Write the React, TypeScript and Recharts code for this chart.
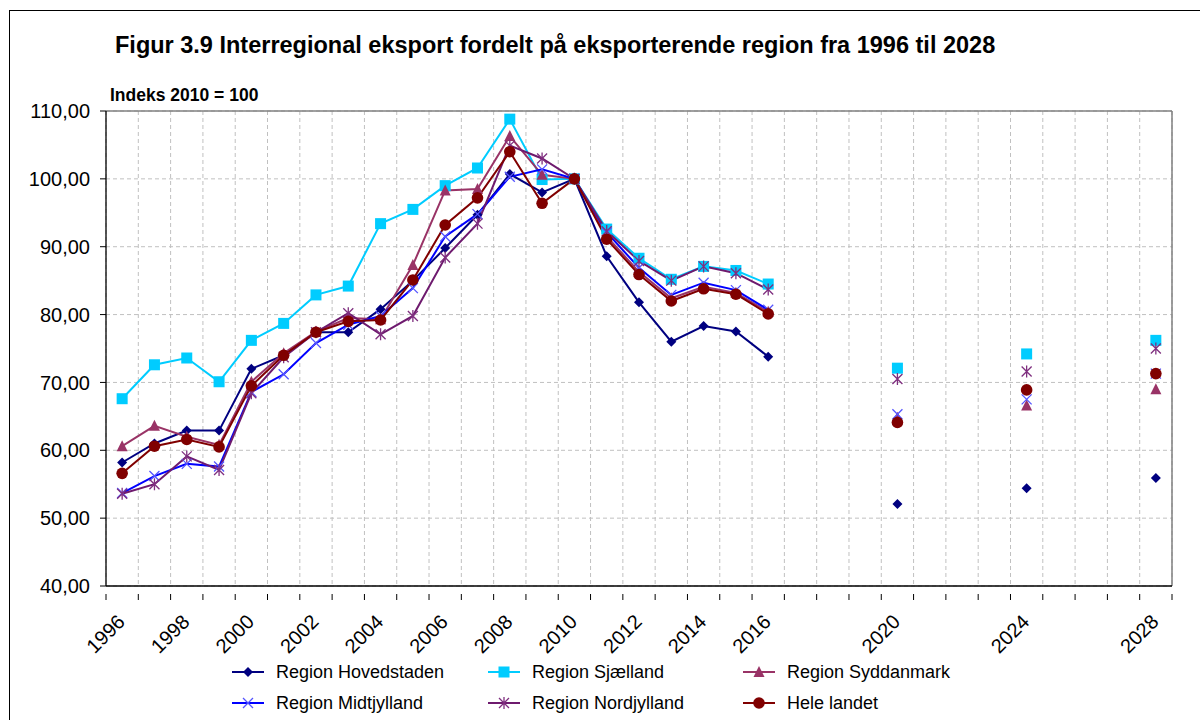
import React from 'react';
import { LineChart, Line, XAxis, YAxis, CartesianGrid, ReferenceLine } from 'recharts';

const histYears = [1996, 1997, 1998, 1999, 2000, 2001, 2002, 2003, 2004, 2005, 2006, 2007, 2008, 2009, 2010, 2011, 2012, 2013, 2014, 2015, 2016];
const projYears = [2020, 2024, 2028];
const labelYears = [1996, 1998, 2000, 2002, 2004, 2006, 2008, 2010, 2012, 2014, 2016, 2020, 2024, 2028];
const yTicks = [40, 50, 60, 70, 80, 90, 100, 110];

const hovedstadenHist = [58.2, 61.0, 62.9, 62.9, 72.0, 74.0, 77.4, 77.4, 80.8, 85.0, 89.8, 94.7, 100.7, 98.0, 100.0, 88.6, 81.8, 76.0, 78.3, 77.5, 73.8];
const hovedstadenProj = [52.1, 54.4, 55.9];
const sjaellandHist = [67.6, 72.6, 73.6, 70.1, 76.2, 78.7, 82.9, 84.2, 93.4, 95.5, 99.0, 101.6, 108.8, 99.9, 100.0, 92.6, 88.3, 85.2, 87.1, 86.5, 84.5];
const sjaellandProj = [72.1, 74.2, 76.2];
const syddanmarkHist = [60.6, 63.6, 62.0, 60.8, 70.1, 74.3, 77.5, 79.5, 79.3, 87.3, 98.3, 98.5, 106.3, 100.6, 100.0, 91.5, 86.3, 82.4, 84.1, 83.2, 80.4];
const syddanmarkProj = [64.8, 66.6, 69.0];
const midtjyllandHist = [53.7, 56.2, 58.0, 57.6, 68.6, 71.2, 75.8, 78.5, 79.8, 83.9, 91.5, 94.8, 100.3, 101.4, 100.0, 92.1, 86.9, 82.9, 84.7, 83.6, 80.7];
const midtjyllandProj = [65.3, 67.5, 71.3];
const nordjyllandHist = [53.6, 55.0, 59.1, 57.1, 68.4, 73.7, 77.4, 80.2, 77.1, 79.8, 88.4, 93.4, 104.9, 103.0, 100.0, 92.3, 87.9, 85.0, 87.1, 86.1, 83.7];
const nordjyllandProj = [70.5, 71.6, 75.0];
const heleLandetHist = [56.6, 60.6, 61.6, 60.5, 69.5, 74.0, 77.4, 79.0, 79.2, 85.1, 93.2, 97.2, 104.0, 96.4, 100.0, 91.1, 85.9, 82.0, 83.8, 83.0, 80.1];
const heleLandetProj = [64.1, 68.9, 71.3];

const FONT = '"Liberation Sans", Arial, Helvetica, sans-serif';

type MarkerType = 'diamond' | 'square' | 'triangle' | 'x' | 'star' | 'circle';

const SERIES: { key: string; name: string; hist: number[]; proj: number[]; color: string; markerColor: string; marker: MarkerType }[] = [
  { key: 'hov', name: 'Region Hovedstaden', hist: hovedstadenHist, proj: hovedstadenProj, color: '#000080', markerColor: '#000080', marker: 'diamond' },
  { key: 'sja', name: 'Region Sjælland', hist: sjaellandHist, proj: sjaellandProj, color: '#00CCFF', markerColor: '#00CCFF', marker: 'square' },
  { key: 'syd', name: 'Region Syddanmark', hist: syddanmarkHist, proj: syddanmarkProj, color: '#993366', markerColor: '#993366', marker: 'triangle' },
  { key: 'mid', name: 'Region Midtjylland', hist: midtjyllandHist, proj: midtjyllandProj, color: '#0000FF', markerColor: '#5555FF', marker: 'x' },
  { key: 'nor', name: 'Region Nordjylland', hist: nordjyllandHist, proj: nordjyllandProj, color: '#6E1A6E', markerColor: '#7F2F7F', marker: 'star' },
  { key: 'hel', name: 'Hele landet', hist: heleLandetHist, proj: heleLandetProj, color: '#800000', markerColor: '#800000', marker: 'circle' },
];

const firstYear = histYears[0];
const lastYear = projYears[projYears.length - 1];
const allYears: number[] = [];
for (let y = firstYear; y <= lastYear; y++) allYears.push(y);
const boundaries = [...allYears.map((y) => y - 0.5), lastYear + 0.5];
const xTicks = [...boundaries, ...labelYears].sort((a, b) => a - b);

const data = allYears.map((year) => {
  const row: Record<string, number | null> = { year };
  SERIES.forEach((s) => {
    const hi = histYears.indexOf(year);
    const pi = projYears.indexOf(year);
    row[s.key] = hi >= 0 ? s.hist[hi] : pi >= 0 ? s.proj[pi] : null;
  });
  return row;
});

function MarkerShape({ type, cx, cy, color }: { type: MarkerType; cx: number; cy: number; color: string }) {
  switch (type) {
    case 'diamond':
      return <polygon points={`${cx},${cy - 5} ${cx + 5},${cy} ${cx},${cy + 5} ${cx - 5},${cy}`} fill={color} />;
    case 'square':
      return <rect x={cx - 5.5} y={cy - 5.5} width={11} height={11} fill={color} />;
    case 'triangle':
      return <polygon points={`${cx},${cy - 6} ${cx + 5.5},${cy + 5} ${cx - 5.5},${cy + 5}`} fill={color} />;
    case 'x':
      return <path d={`M${cx - 5},${cy - 5}L${cx + 5},${cy + 5}M${cx + 5},${cy - 5}L${cx - 5},${cy + 5}`} stroke={color} strokeWidth={1.3} fill="none" />;
    case 'star':
      return <path d={`M${cx - 5},${cy - 5}L${cx + 5},${cy + 5}M${cx + 5},${cy - 5}L${cx - 5},${cy + 5}M${cx},${cy - 6}L${cx},${cy + 6}`} stroke={color} strokeWidth={1.3} fill="none" />;
    case 'circle':
    default:
      return <circle cx={cx} cy={cy} r={5.8} fill={color} />;
  }
}

function makeDot(type: MarkerType, color: string) {
  return (props: any) => {
    const { cx, cy, value, index } = props;
    if (cx == null || cy == null || value == null || Number.isNaN(cy)) return <g key={`d-${index}`} />;
    return (
      <g key={`d-${index}`}>
        <MarkerShape type={type} cx={cx} cy={cy} color={color} />
      </g>
    );
  };
}

function XTick(props: any) {
  const { x, y, payload } = props;
  const v = payload.value as number;
  if (!Number.isInteger(v)) {
    return <line x1={x} y1={y} x2={x} y2={y + 6} stroke="#000" strokeWidth={1} />;
  }
  const ax = x + 4;
  const ay = y + 29;
  return (
    <text x={ax} y={ay} transform={`rotate(-45, ${ax}, ${ay})`} textAnchor="end" fontSize={20} fontFamily={FONT} fill="#000">
      {v}
    </text>
  );
}

const fmt = (v: number) => v.toFixed(2).replace('.', ',');

function LegendItem({ s, left, top }: { s: (typeof SERIES)[number]; left: number; top: number }) {
  return (
    <div style={{ position: 'absolute', left, top: top - 12, height: 24, display: 'flex', alignItems: 'center', whiteSpace: 'nowrap' }}>
      <svg width={32} height={16} style={{ display: 'block' }}>
        <line x1={0} y1={8} x2={32} y2={8} stroke={s.color} strokeWidth={2} />
        <MarkerShape type={s.marker} cx={16} cy={8} color={s.markerColor} />
      </svg>
      <span style={{ marginLeft: 12, fontSize: 18, fontFamily: FONT, color: '#000' }}>{s.name}</span>
    </div>
  );
}

const legendCols = [232, 488, 743];
const legendRows = [672, 703];

export default function App() {
  return (
    <div style={{ position: 'fixed', left: 0, top: 0, width: 1200, height: 720, overflow: 'hidden', background: '#fff' }}>
      <div style={{ position: 'absolute', left: 9, top: 10, width: 1210, height: 730, border: '1px solid #000', boxSizing: 'border-box' }} />
      <div style={{ position: 'absolute', left: 115, top: 32, fontSize: 23.5, fontWeight: 'bold', fontFamily: FONT, color: '#000', whiteSpace: 'nowrap' }}>
        Figur 3.9 Interregional eksport fordelt på eksporterende region fra 1996 til 2028
      </div>
      <div style={{ position: 'absolute', left: 110, top: 85, fontSize: 17.5, fontWeight: 'bold', fontFamily: FONT, color: '#000', whiteSpace: 'nowrap' }}>
        Indeks 2010 = 100
      </div>
      <div style={{ position: 'absolute', left: 0, top: 0 }}>
        <LineChart width={1200} height={720} data={data} margin={{ top: 111, right: 28, bottom: 0, left: 0 }}>
          <CartesianGrid
            stroke="#c0c0c0"
            strokeDasharray="4 3"
            verticalCoordinatesGenerator={({ offset }: any) =>
              boundaries.map((b) => offset.left + ((b - boundaries[0]) / (boundaries[boundaries.length - 1] - boundaries[0])) * offset.width)
            }
          />
          <XAxis
            type="number"
            dataKey="year"
            domain={[boundaries[0], boundaries[boundaries.length - 1]]}
            ticks={xTicks}
            interval={0}
            tickLine={false}
            tick={<XTick />}
            height={134}
            axisLine={{ stroke: '#000', strokeWidth: 1.3 }}
            allowDataOverflow
          />
          <YAxis
            type="number"
            domain={[40, 110]}
            ticks={yTicks}
            interval={0}
            width={106}
            tickSize={6}
            tickMargin={10}
            tickFormatter={fmt}
            tick={{ fontSize: 20, fontFamily: FONT, fill: '#000' }}
            tickLine={{ stroke: '#000' }}
            axisLine={{ stroke: '#000', strokeWidth: 1.3 }}
            allowDataOverflow
          />
          <ReferenceLine y={110} stroke="#808080" strokeWidth={1.5} />
          <ReferenceLine x={boundaries[boundaries.length - 1]} stroke="#808080" strokeWidth={1.5} />
          {SERIES.map((s) => (
            <Line
              key={s.key}
              dataKey={s.key}
              name={s.name}
              stroke={s.color}
              strokeWidth={2}
              dot={makeDot(s.marker, s.markerColor)}
              activeDot={false}
              connectNulls={false}
              isAnimationActive={false}
            />
          ))}
        </LineChart>
      </div>
      {SERIES.map((s, i) => (
        <LegendItem key={s.key} s={s} left={legendCols[i % 3]} top={legendRows[Math.floor(i / 3)]} />
      ))}
    </div>
  );
}
